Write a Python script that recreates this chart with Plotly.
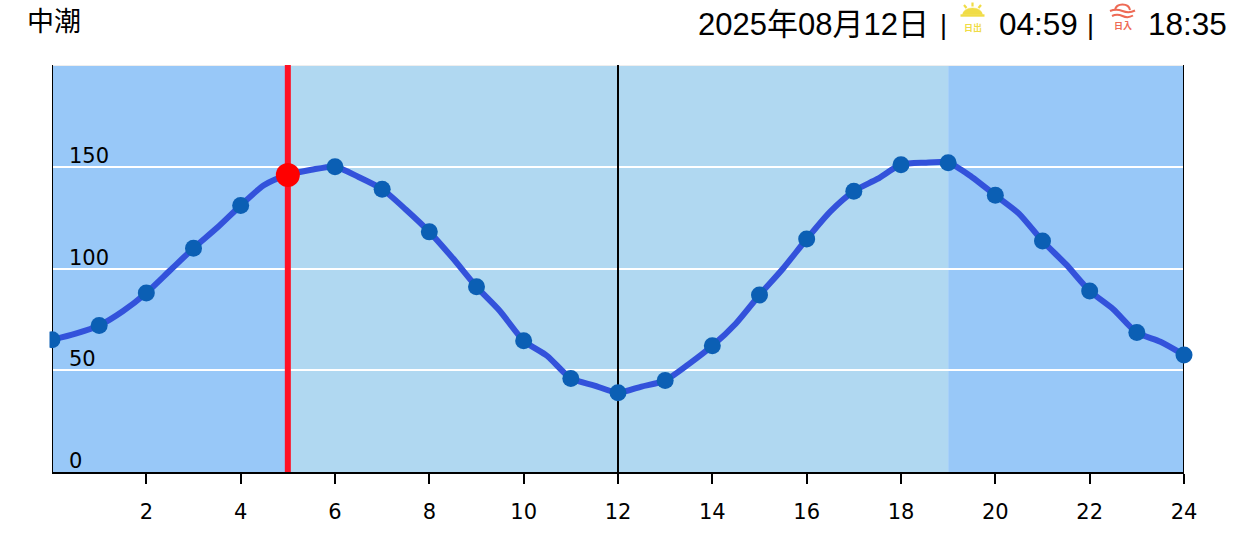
import plotly.graph_objects as go

W, H = 1254, 543
L, R, T, B = 52, 70, 65, 71

# ---- data ----
hours = list(range(25))
levels = [65, 72, 88, 110, 131, 146, 150, 139, 118, 91, 64.5, 46, 39, 45, 62, 87,
          114.5, 138, 151, 152, 136, 113.5, 89, 68.5, 57.5]
curve_hours = [0, .5, 1, 1.5, 2, 2.5, 3, 3.5, 4, 4.5, 5, 5.5, 6, 6.5, 7, 7.5, 8, 8.5, 9, 9.5,
               10, 10.5, 11, 11.5, 12, 12.5, 13, 13.5, 14, 14.5, 15, 15.5, 16, 16.5, 17, 17.5,
               18, 18.5, 19, 19.5, 20, 20.5, 21, 21.5, 22, 22.5, 23, 23.5, 24]
curve_levels = [65, 68, 72, 79, 88, 99, 110, 120, 131, 141, 146, 148.5, 150, 145, 139, 129,
                118, 105, 91, 79, 64.5, 57, 46, 42.5, 39, 42, 45, 53, 62, 73, 87, 100, 114.5,
                128, 138, 144, 151, 152, 152, 145, 136, 127, 113.5, 102, 89, 80, 68.5, 64, 57.5]
now_hour = 5
now_level = 146
day_start, day_end = 5, 19
x_ticks = list(range(2, 25, 2))
y_ticks = [0, 50, 100, 150]
y_max = 200

title_left = "中潮"
date_text = "2025年08月12日"
sunrise_text = "04:59"
sunset_text = "18:35"

# ---- pixel helpers for the header decoration ----
PW, PH = W - L - R, H - T - B
def xp(px): return (px - L) / PW
def yp(py): return (H - B - py) / PH
def P(px, py): return f"{xp(px):.5f},{yp(py):.5f}"

SUN = "#F0DC46"
SET = "#EE6A55"
FONT = "Liberation Sans, Noto Sans CJK JP, sans-serif"
TICKF = "DejaVu Sans, Verdana, sans-serif"

shapes = [
    dict(type="rect", xref="x", yref="y", x0=0, x1=day_start, y0=0, y1=y_max,
         fillcolor="#98C8F8", line_width=0, layer="below"),
    dict(type="rect", xref="x", yref="y", x0=day_start, x1=day_end, y0=0, y1=y_max,
         fillcolor="#B0D8F1", line_width=0, layer="below"),
    dict(type="rect", xref="x", yref="y", x0=day_end, x1=24, y0=0, y1=y_max,
         fillcolor="#98C8F8", line_width=0, layer="below"),
    dict(type="line", xref="x", yref="y", x0=0, x1=24, y0=y_max, y1=y_max,
         line=dict(color="#EEEEEE", width=2), layer="below"),
    # the reference clips the first dot a little left of the axis
    dict(type="rect", xref="paper", yref="paper", x0=xp(42), x1=xp(49.5), y0=yp(355), y1=yp(325),
         fillcolor="#FFFFFF", line_width=0, layer="above"),
]

def icon(path=None, color=SUN, width=2.0, fill=None):
    d = dict(type="path", xref="paper", yref="paper", path=path,
             line=dict(color=color, width=width), layer="above")
    if fill:
        d["fillcolor"] = fill
    return d

# sunrise icon
shapes += [
    icon(f"M {P(962.5,14.5)} Q {P(964,8)} {P(972.5,8)} Q {P(981,8)} {P(982.5,14.5)} Z", SUN, 0.5, SUN),
    icon(f"M {P(960.5,15.5)} L {P(984.5,15.5)}", SUN, 2.4),
    icon(f"M {P(972.5,2.5)} L {P(972.5,6.5)}", SUN, 2.2),
    icon(f"M {P(964,5)} L {P(966.5,8)}", SUN, 2.2),
    icon(f"M {P(981,5)} L {P(978.5,8)}", SUN, 2.2),
]
# sunset icon
shapes += [
    icon(f"M {P(1115,10)} Q {P(1116,4.5)} {P(1122.5,4.5)} Q {P(1129,4.5)} {P(1130,10)}", SET, 2),
    icon(f"M {P(1110,11)} Q {P(1116,8.5)} {P(1122.5,11)} Q {P(1129,13.5)} {P(1135,10.5)}", SET, 2),
    icon(f"M {P(1112,16)} Q {P(1117,13.5)} {P(1122.5,16)} Q {P(1128,18.5)} {P(1133,15.5)}", SET, 2),
]

def text(x, y, s, size=27, anchor="left", color="#000000", family=FONT):
    return dict(xref="paper", yref="paper", x=xp(x), y=yp(y), text=s, showarrow=False,
                xanchor=anchor, yanchor="middle",
                font=dict(size=size, color=color, family=family))

annotations = [
    text(25, 22, title_left, 27),
    text(931, 24, date_text, 31, "right"),
    text(943.5, 25, "|", 27, "center"),
    text(1038.5, 24, sunrise_text, 31.5, "center"),
    text(1090.5, 25, "|", 27, "center"),
    text(1187, 24, sunset_text, 31.5, "center"),
    text(972.5, 27, "<b>日出</b>", 9, "center", SUN),
    text(1122.5, 26, "<b>日入</b>", 9, "center", SET),
]
# y tick labels sit just above their gridlines, inside the plot
for v in y_ticks:
    annotations.append(dict(xref="x", yref="y", x=0, y=v, text=str(v), showarrow=False,
                            xanchor="left", yanchor="middle", xshift=15, yshift=11,
                            font=dict(size=21, color="#000000", family=TICKF)))

fig = go.Figure()
for bx in (0, 12, 24):
    fig.add_trace(go.Scatter(x=[bx, bx], y=[0, y_max], mode="lines",
                             line=dict(color="#000000", width=2), hoverinfo="skip",
                             showlegend=False, cliponaxis=False))
fig.add_trace(go.Scatter(x=[now_hour, now_hour], y=[0, y_max], mode="lines",
                         line=dict(color="#FF1025", width=6), hoverinfo="skip", showlegend=False))
fig.add_trace(go.Scatter(x=curve_hours, y=curve_levels, mode="lines",
                         line=dict(color="#3352DB", width=6, shape="spline", smoothing=0.7),
                         showlegend=False, cliponaxis=False))
fig.add_trace(go.Scatter(x=hours, y=levels, mode="markers",
                         marker=dict(color="#0B5FB4", size=17), showlegend=False, cliponaxis=False))
fig.add_trace(go.Scatter(x=[now_hour], y=[now_level], mode="markers",
                         marker=dict(color="#FF0000", size=24), showlegend=False, cliponaxis=False))

fig.update_layout(
    width=W, height=H, margin=dict(l=L, r=R, t=T, b=B, pad=0),
    paper_bgcolor="#FFFFFF", plot_bgcolor="#FFFFFF",
    shapes=shapes, annotations=annotations, showlegend=False,
    font=dict(family=TICKF, size=21, color="#000000"),
    xaxis=dict(range=[0, 24], tickvals=x_ticks, ticktext=[str(v) for v in x_ticks],
               showgrid=False, zeroline=False, showline=True, linecolor="#000000", linewidth=2,
               ticks="outside", ticklen=10, tickwidth=2, tickcolor="#000000",
               tickfont=dict(family=TICKF, size=21, color="#000000"), ticklabelstandoff=10),
    yaxis=dict(range=[0, y_max], tickvals=y_ticks, showticklabels=False,
               showgrid=True, gridcolor="#FFFFFF", gridwidth=2, zeroline=False,
               showline=False, ticks=""),
)
fig.write_html("out.html", config={"displayModeBar": False},
               post_script="document.body.style.margin='0';")
